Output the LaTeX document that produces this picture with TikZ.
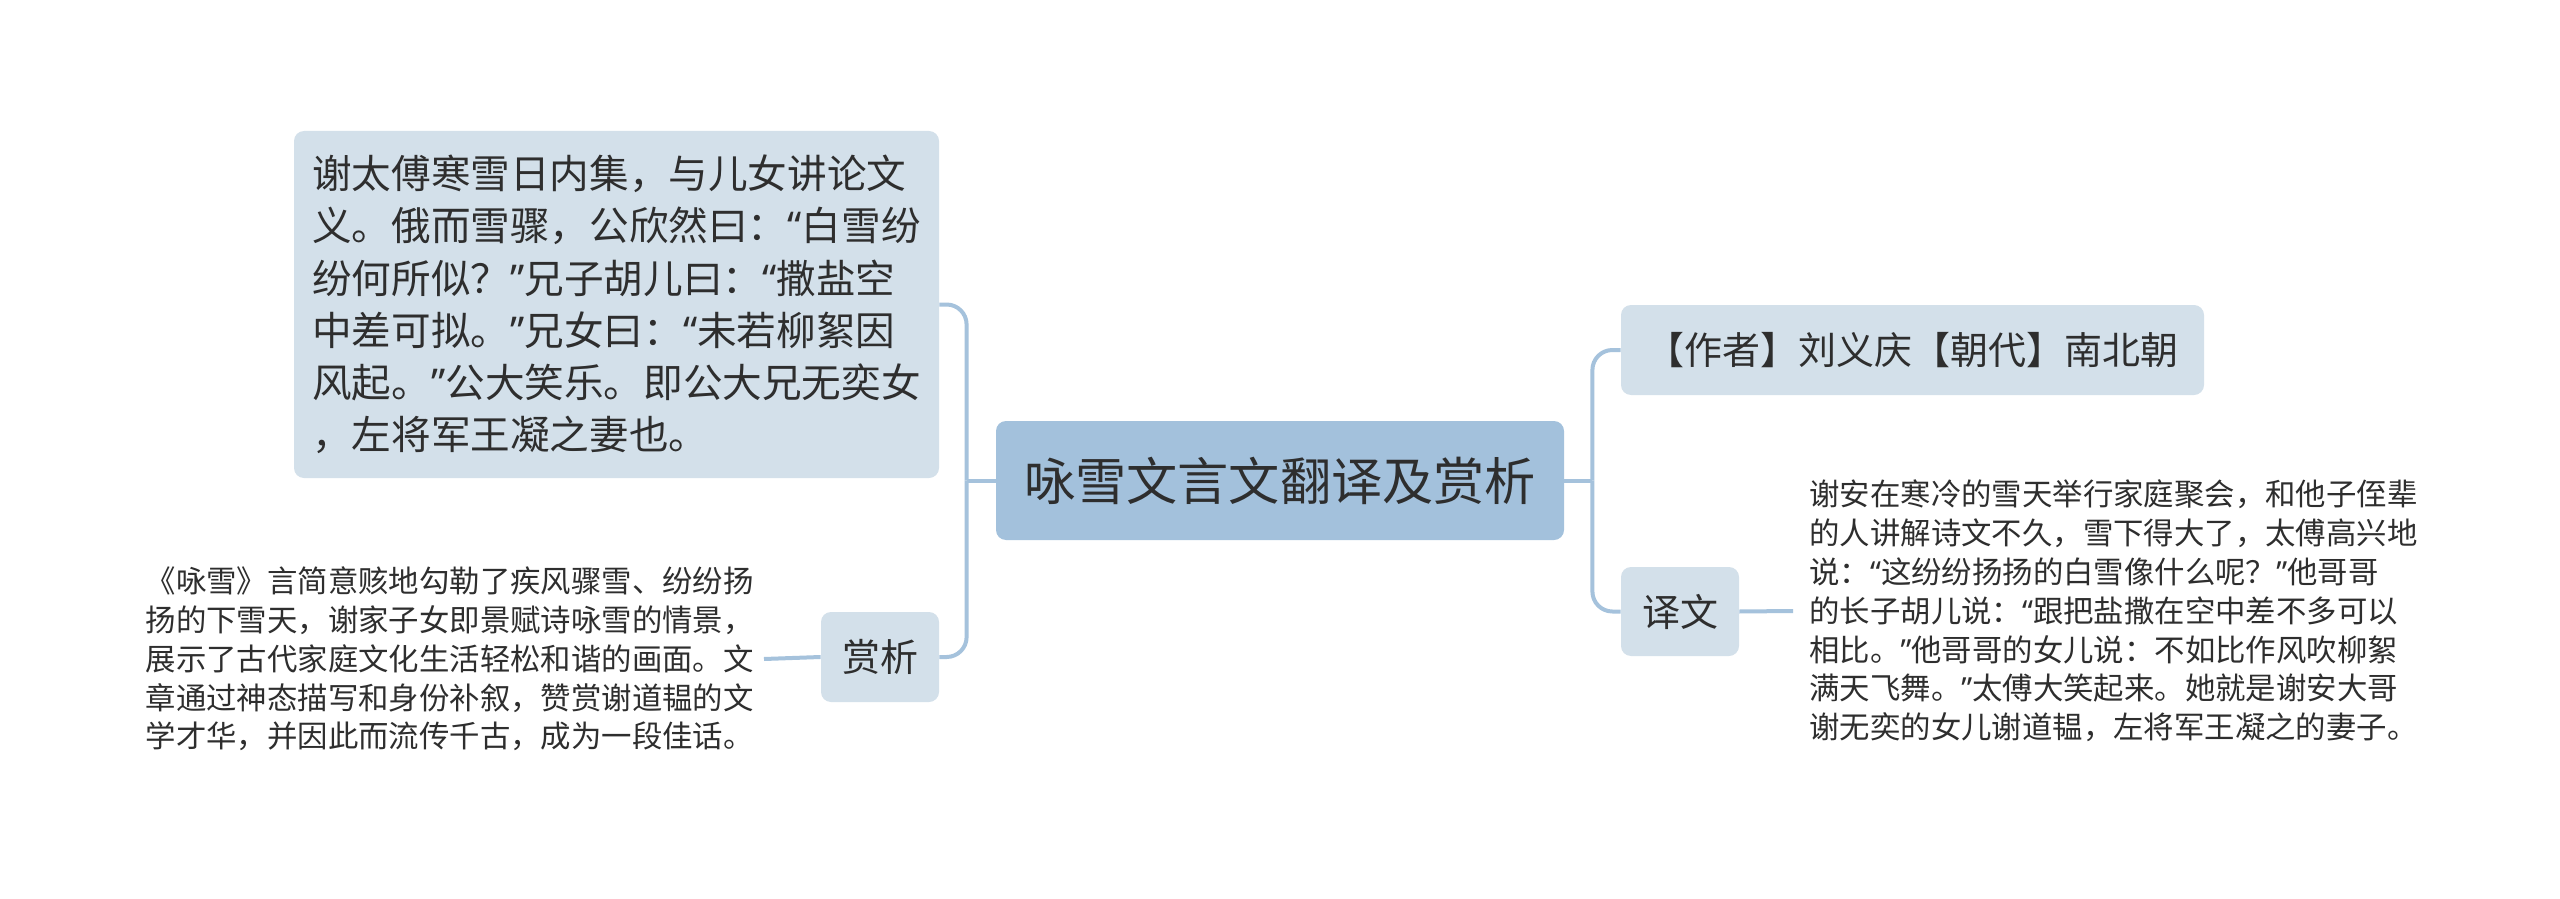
\documentclass[tikz,border=0pt]{standalone}
\usepackage{fontspec}
\setmainfont{Noto Sans CJK SC}
\newfontfamily\quotefont{Noto Sans}
\newcommand\qL{{\quotefont “}}
\newcommand\qR{{\quotefont ”}}
\usepackage{tikz}
\usetikzlibrary{calc}
\usepackage{xcolor}
\definecolor{rootBlue}{HTML}{A3C1DC}
\definecolor{topicGrey}{HTML}{D3E0EA}
\definecolor{linkBlue}{HTML}{A5C2DC}
\definecolor{inkDark}{HTML}{2E2E2E}

\begin{document}
\begin{tikzpicture}[x=0.5pt, y=-0.5pt, text=inkDark,
    rootbox/.style={fill=rootBlue, rounded corners=5pt, inner sep=0pt,
      font=\fontsize{25.6pt}{30pt}\selectfont},
    topicbox/.style={fill=topicGrey, rounded corners=5pt, inner sep=0pt,
      font=\fontsize{19pt}{24pt}\selectfont},
    plaintext/.style={align=left, inner ysep=0pt,
      font=\fontsize{15.2pt}{19.4pt}\selectfont},
    link/.style={draw=linkBlue, line width=2pt}]
    \fill[white] (0,0) rectangle (2560,899);
    \useasboundingbox (0,0) rectangle (2560,899);
    % centre and branches
    \node[rootbox, minimum width=284pt, minimum height=59.5pt] (root)
      at (1280,480.5) {咏雪文言文翻译及赏析};
    \node[topicbox, minimum width=322.5pt, minimum height=173.5pt,
      align=left, font=\fontsize{19.8pt}{26.1pt}\selectfont] (yuanwen)
      at (616.5,304.5) {谢太傅寒雪日内集，与儿女讲论文\\
      义。俄而雪骤，公欣然曰：\qL 白雪纷\\
      纷何所似？\qR 兄子胡儿曰：\qL 撒盐空\\
      中差可拟。\qR 兄女曰：\qL 未若柳絮因\\
      风起。\qR 公大笑乐。即公大兄无奕女\\
      ，左将军王凝之妻也。};
    \node[topicbox, minimum width=59pt, minimum height=45pt] (shangxi)
      at (880,657) {赏析};
    \node[topicbox, minimum width=291.5pt, minimum height=45pt] (zuozhe)
      at (1912.5,350) {【作者】刘义庆【朝代】南北朝};
    \node[topicbox, minimum width=59pt, minimum height=44.5pt] (yiwen)
      at (1680,611.5) {译文};
    % leaf texts
    \node[plaintext, inner xsep=5pt, anchor=east] (shangxiText) at (764,659)
      {《咏雪》言简意赅地勾勒了疾风骤雪、纷纷扬\\
      扬的下雪天，谢家子女即景赋诗咏雪的情景，\\
      展示了古代家庭文化生活轻松和谐的画面。文\\
      章通过神态描写和身份补叙，赞赏谢道韫的文\\
      学才华，并因此而流传千古，成为一段佳话。};
    \node[plaintext, inner xsep=8pt, anchor=west] (yiwenText) at (1793,611)
      {谢安在寒冷的雪天举行家庭聚会，和他子侄辈\\
      的人讲解诗文不久，雪下得大了，太傅高兴地\\
      说：\qL 这纷纷扬扬的白雪像什么呢？\qR 他哥哥\\
      的长子胡儿说：\qL 跟把盐撒在空中差不多可以\\
      相比。\qR 他哥哥的女儿说：不如比作风吹柳絮\\
      满天飞舞。\qR 太傅大笑起来。她就是谢安大哥\\
      谢无奕的女儿谢道韫，左将军王凝之的妻子。};
    % connectors
    \coordinate (leftJoin) at ($(root.west)+(-29,0)$);
    \coordinate (rightJoin) at ($(root.east)+(28,0)$);
    \draw[link] (root.west) -- (leftJoin);
    \draw[link, rounded corners=10pt] (leftJoin) |- (yuanwen.east);
    \draw[link, rounded corners=10pt] (leftJoin) |- (shangxi.east);
    \draw[link] (root.east) -- (rightJoin);
    \draw[link, rounded corners=10pt] (rightJoin) |- (zuozhe.west);
    \draw[link, rounded corners=10pt] (rightJoin) |- (yiwen.west);
    \draw[link] (shangxi.west) -- (shangxiText.east);
    \draw[link] (yiwen.east) -- (yiwenText.west);
  \end{tikzpicture}
\end{document}
